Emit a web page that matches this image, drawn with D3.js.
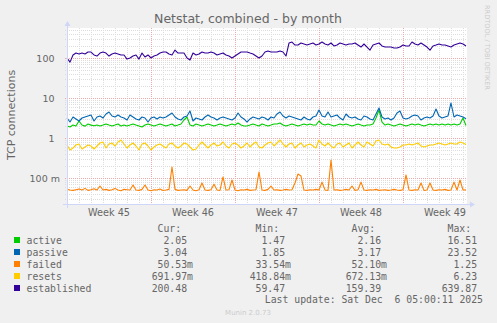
<!DOCTYPE html>
<html><head><meta charset="utf-8">
<script src="https://cdn.jsdelivr.net/npm/d3@7"></script>
<style>
html,body{margin:0;padding:0;background:#f0f0f0;}
svg{display:block;}
</style></head><body>
<svg id="chart" width="497" height="323"></svg>
<script>
// Netstat, combined - monthly view (6 hour samples)
const startTime = Date.UTC(2025, 10, 3, 0, 0, 0);
const endTime = Date.UTC(2025, 11, 6, 8, 0, 0);
const stepHours = 6;

const seriesNames = ["active", "passive", "failed", "resets", "established"];
const seriesColors = ["#00cc00", "#0066b3", "#ff8000", "#ffcc00", "#330099"];

const active = [
  2.00,1.88,2.11,2.00,2.66,2.11,1.98,2.24,2.10,2.02,
  2.11,2.00,2.11,2.24,2.11,2.00,2.11,2.24,2.00,2.11,
  2.00,2.11,2.24,2.11,2.00,1.88,2.11,2.24,2.11,2.00,
  2.11,2.24,2.11,2.00,2.11,2.24,2.00,2.11,2.24,2.82,
  3.35,2.11,2.00,2.24,2.11,2.00,2.11,2.24,2.11,2.00,
  2.11,2.24,2.11,2.00,2.11,2.24,2.11,2.37,2.11,2.00,
  2.00,2.11,2.24,2.11,2.00,2.24,2.11,2.00,2.11,2.24,
  2.24,2.37,2.11,2.00,2.11,2.24,2.11,2.00,2.11,2.24,
  2.11,2.24,2.11,2.11,2.66,2.24,2.11,2.24,2.11,2.00,
  2.11,2.24,2.11,2.24,2.11,2.00,2.11,2.24,2.11,2.00,
  2.11,2.11,2.24,3.16,5.01,2.51,2.11,2.24,2.11,2.00,
  2.11,2.24,2.11,2.00,2.11,2.24,2.11,2.24,2.11,2.00,
  2.11,2.24,2.11,2.24,2.11,2.24,2.11,2.24,2.11,2.24,
  2.11,2.24,3.16,2.05
];

const passive = [
  3.16,2.51,3.35,2.99,2.66,3.16,3.35,3.55,3.76,2.66,
  3.35,3.55,3.16,3.98,4.47,3.55,3.35,3.76,3.35,3.16,
  2.82,3.76,3.35,2.99,2.82,3.35,3.16,2.51,3.16,3.35,
  2.99,3.35,3.16,3.35,3.76,4.22,3.35,2.99,2.82,3.35,
  3.55,4.73,2.66,3.16,2.99,2.82,3.35,3.76,3.35,3.16,
  2.82,3.16,3.35,3.16,2.99,2.82,3.16,4.22,3.35,2.99,
  2.51,2.99,3.35,3.16,2.99,3.35,3.16,2.82,3.35,3.16,
  3.98,4.47,3.55,3.16,3.55,3.35,3.16,2.99,2.82,3.35,
  2.99,2.82,3.35,3.55,5.01,3.55,3.35,4.47,3.35,3.55,
  3.76,3.16,2.82,3.98,3.35,3.16,3.35,2.99,2.82,3.55,
  3.35,2.99,2.82,3.98,5.62,3.35,2.99,3.16,2.82,3.16,
  4.22,4.73,3.16,2.99,3.16,3.55,3.76,3.55,2.82,3.16,
  3.35,3.16,3.55,5.31,3.55,3.16,3.35,3.55,7.50,3.35,
  3.76,3.55,3.35,3.04
];

const failed = [
  0.052,0.050,0.049,0.051,0.053,0.050,0.055,0.049,0.051,0.054,
  0.050,0.063,0.050,0.052,0.049,0.051,0.055,0.050,0.048,0.052,
  0.051,0.050,0.067,0.050,0.049,0.052,0.067,0.050,0.048,0.051,
  0.050,0.053,0.049,0.050,0.052,0.188,0.052,0.049,0.050,0.051,
  0.049,0.063,0.050,0.048,0.051,0.075,0.050,0.049,0.051,0.070,
  0.050,0.049,0.106,0.050,0.051,0.089,0.050,0.048,0.051,0.050,
  0.052,0.049,0.050,0.051,0.141,0.050,0.049,0.052,0.063,0.050,
  0.051,0.049,0.050,0.052,0.050,0.051,0.075,0.126,0.112,0.050,
  0.049,0.051,0.050,0.052,0.050,0.079,0.050,0.049,0.280,0.050,
  0.051,0.049,0.050,0.052,0.050,0.063,0.049,0.051,0.079,0.050,
  0.049,0.051,0.050,0.052,0.049,0.050,0.051,0.049,0.050,0.052,
  0.050,0.049,0.051,0.119,0.050,0.049,0.051,0.050,0.075,0.049,
  0.050,0.075,0.050,0.049,0.051,0.050,0.052,0.049,0.050,0.079,
  0.050,0.089,0.050,0.0505
];

const resets = [
  0.668,0.501,0.562,0.668,0.708,0.531,0.596,0.668,0.631,0.531,
  0.631,0.750,0.794,0.562,0.708,0.750,0.631,0.794,0.891,0.708,
  0.562,0.668,0.750,0.631,0.501,0.708,0.750,0.631,0.501,0.596,
  0.668,0.708,0.631,0.562,0.708,0.750,0.631,0.562,0.631,0.750,
  0.708,0.596,0.501,0.531,0.668,0.794,0.668,0.562,0.668,0.750,
  0.631,0.668,0.794,0.631,0.562,0.708,0.750,0.668,0.562,0.631,
  0.750,0.596,0.708,0.794,0.596,0.562,0.668,0.750,0.794,0.631,
  0.750,0.891,0.708,0.596,0.708,0.750,0.562,0.668,0.750,0.596,
  0.668,0.708,0.631,0.562,0.891,0.708,0.631,0.750,0.631,0.562,
  0.708,0.750,0.596,0.668,0.750,0.562,0.668,0.794,0.668,0.596,
  0.794,0.708,0.631,0.841,0.891,0.708,0.668,0.708,0.596,0.562,
  0.562,0.596,0.668,0.668,0.708,0.668,0.708,0.750,0.631,0.596,
  0.631,0.668,0.668,0.708,0.750,0.708,0.668,0.708,0.750,0.708,
  0.708,0.794,0.750,0.692
];

const established = [
  100,79,119,133,126,133,126,141,141,119,
  112,133,141,133,112,126,133,126,119,119,
  94,100,112,119,94,133,106,119,100,112,
  119,133,141,141,126,119,158,133,133,133,
  100,89,133,119,126,141,133,133,141,133,
  119,126,133,119,112,100,112,126,141,141,
  141,133,126,112,100,112,141,150,141,141,
  141,150,141,112,237,251,211,211,237,224,
  211,224,237,211,224,251,224,211,237,200,
  211,237,224,211,224,224,237,211,188,224,
  188,158,211,224,237,200,188,188,188,178,
  178,188,211,200,200,251,224,211,237,211,
  188,158,200,211,224,211,211,200,188,211,
  224,237,224,200.48
];

// Legend statistics
const legendCur = ["2.05", "3.04", "50.53m", "691.97m", "200.48"];
const legendMin = ["1.47", "1.85", "33.54m", "418.84m", "59.47"];
const legendAvg = ["2.16", "3.17", "52.10m", "672.13m", "159.39"];
const legendMax = ["16.51", "23.52", "1.25", "6.23", "639.87"];
const legendHeaders = ["Cur:", "Min:", "Avg:", "Max:"];

const yTickValues = [0.1, 1, 10, 100];
const yTickLabels = ["100 m", "1", "10", "100"];

const titleText = "Netstat, combined - by month";
const yAxisTitle = "TCP connections";
const lastUpdate = "Last update: Sat Dec  6 05:00:11 2025";
const footerText = "Munin 2.0.73";
const sideText = "RRDTOOL / TOBI OETIKER";

// ---- layout ----
const plot = {left: 67, right: 467, top: 28, bottom: 204};
const fontColor = "#666666";
const axisColor = "#cfd6f8";
const minorGridColor = "#dddddd";
const majorGridColor = "#eeaaaa";
const sans = "'DejaVu Sans', sans-serif";
const mono = "'DejaVu Sans Mono', monospace";

const svg = d3.select("#chart");
svg.append("rect").attr("width", 497).attr("height", 323).attr("fill", "#f0f0f0");

const x = d3.scaleUtc().domain([startTime, endTime]).range([plot.left, plot.right]);
// 40 px per decade, 100 at y=58
const y = d3.scaleLog().domain([Math.pow(10, -1.65), Math.pow(10, 2.75)]).range([plot.bottom, plot.top]);

svg.append("rect")
  .attr("x", plot.left).attr("y", plot.top)
  .attr("width", plot.right - plot.left).attr("height", plot.bottom - plot.top)
  .attr("fill", "#ffffff");

const grid = svg.append("g").attr("shape-rendering", "crispEdges");
const snap = v => Math.round(v) + 0.5;

// horizontal minor grid (2..9 per decade)
const [yMin, yMax] = y.domain();
const minorY = [];
for (let e = -2; e <= 2; e++) {
  for (let m = 2; m <= 9; m++) {
    const v = m * Math.pow(10, e);
    if (v > yMin && v < yMax) minorY.push(v);
  }
}
grid.selectAll("line.hmin").data(minorY).join("line")
  .attr("x1", plot.left - 2).attr("x2", plot.right)
  .attr("y1", d => snap(y(d))).attr("y2", d => snap(y(d)))
  .attr("stroke", minorGridColor).attr("stroke-width", 1)
  .attr("stroke-dasharray", "1,1");

// vertical minor grid (days)
const days = d3.utcDay.range(new Date(startTime), new Date(endTime)).filter(d => d.getTime() > startTime);
grid.selectAll("line.vmin").data(days).join("line")
  .attr("x1", d => snap(x(d))).attr("x2", d => snap(x(d)))
  .attr("y1", plot.top).attr("y2", plot.bottom + 2)
  .attr("stroke", minorGridColor).attr("stroke-width", 1)
  .attr("stroke-dasharray", "1,1");

// major grid
grid.selectAll("line.hmaj").data(yTickValues).join("line")
  .attr("x1", plot.left - 2).attr("x2", plot.right)
  .attr("y1", d => snap(y(d))).attr("y2", d => snap(y(d)))
  .attr("stroke", majorGridColor).attr("stroke-width", 1)
  .attr("stroke-dasharray", "1,1");

const weeks = d3.utcMonday.range(new Date(startTime + 1), new Date(endTime));
grid.selectAll("line.vmaj").data(weeks).join("line")
  .attr("x1", d => snap(x(d))).attr("x2", d => snap(x(d)))
  .attr("y1", plot.top).attr("y2", plot.bottom + 2)
  .attr("stroke", majorGridColor).attr("stroke-width", 1)
  .attr("stroke-dasharray", "1,1");

// ---- series ----
const times = established.map((_, i) => startTime + i * stepHours * 3600e3);
const allSeries = [active, passive, failed, resets, established];
const line = d3.line().x((d, i) => x(times[i])).y(d => y(d));
svg.append("g").selectAll("path").data(allSeries).join("path")
  .attr("d", d => line(d))
  .attr("fill", "none")
  .attr("stroke", (d, i) => seriesColors[i])
  .attr("stroke-width", 1.1)
  .attr("stroke-linejoin", "round");

// ---- axes ----
const ax = svg.append("g");
ax.append("line").attr("x1", plot.left - 4).attr("x2", plot.right + 4)
  .attr("y1", plot.bottom + 0.5).attr("y2", plot.bottom + 0.5).attr("stroke", axisColor);
ax.append("line").attr("x1", plot.left + 0.5).attr("x2", plot.left + 0.5)
  .attr("y1", plot.bottom + 4).attr("y2", plot.top - 4).attr("stroke", axisColor);
ax.append("path")
  .attr("d", `M${plot.right + 3},${plot.bottom - 2.5}L${plot.right + 8},${plot.bottom + 0.5}L${plot.right + 3},${plot.bottom + 3.5}Z`)
  .attr("fill", axisColor);
ax.append("path")
  .attr("d", `M${plot.left - 2.5},${plot.top - 2}L${plot.left + 0.5},${plot.top - 7}L${plot.left + 3.5},${plot.top - 2}Z`)
  .attr("fill", axisColor);

// y tick labels (suffix-less labels keep a trailing blank, as in the number format)
svg.append("g").selectAll("text").data(yTickValues).join("text")
  .attr("x", (d, i) => yTickLabels[i].endsWith("m") ? 60 : 54.5)
  .attr("y", d => y(d) + 3.5)
  .attr("text-anchor", "end")
  .attr("font-family", sans).attr("font-size", "9.5px").attr("fill", fontColor)
  .text((d, i) => yTickLabels[i]);

// x labels: ISO week centred in each week
const weekStarts = d3.utcMonday.range(new Date(startTime), new Date(endTime));
svg.append("g").selectAll("text").data(weekStarts).join("text")
  .attr("x", d => x(d3.utcHour.offset(d, 84)))
  .attr("y", 216)
  .attr("text-anchor", "middle")
  .attr("font-family", sans).attr("font-size", "9.7px").attr("fill", fontColor)
  .text(d => "Week " + d3.utcFormat("%V")(d));

// titles
svg.append("text").attr("x", 248).attr("y", 23).attr("text-anchor", "middle")
  .attr("font-family", sans).attr("font-size", "12.5px").attr("fill", fontColor)
  .text(titleText);
svg.append("text").attr("transform", "translate(15,115) rotate(-90)")
  .attr("text-anchor", "middle")
  .attr("font-family", sans).attr("font-size", "11px").attr("fill", fontColor)
  .text(yAxisTitle);
svg.append("text").attr("transform", "translate(485,5) rotate(90)")
  .attr("font-family", sans).attr("font-size", "6.6px").attr("fill", "#cccccc")
  .text(sideText);

// ---- legend ----
const lg = svg.append("g").attr("font-family", mono).attr("font-size", "9.8px").attr("fill", fontColor);
const charW = 5.95;
const colEnds = [193, 291, 387, 483];
const rowY0 = 243.5, rowStep = 12;
lg.selectAll("text.hdr").data(legendHeaders).join("text")
  .attr("x", (d, i) => colEnds[i] - 2 * charW).attr("y", rowY0 - rowStep)
  .attr("text-anchor", "end").text(d => d);
seriesNames.forEach((name, r) => {
  const yy = rowY0 + r * rowStep;
  lg.append("rect").attr("x", 14).attr("y", yy - 6.5).attr("width", 6).attr("height", 6)
    .attr("fill", seriesColors[r]);
  lg.append("text").attr("x", 26.5).attr("y", yy).text(name);
  [legendCur, legendMin, legendAvg, legendMax].forEach((col, c) => {
    const s = col[r];
    lg.append("text")
      .attr("x", s.endsWith("m") ? colEnds[c] : colEnds[c] - charW)
      .attr("y", yy).attr("text-anchor", "end").text(s);
  });
});
lg.append("text").attr("x", 483).attr("y", rowY0 + 5 * rowStep - 1)
  .attr("text-anchor", "end").style("white-space", "pre").text(lastUpdate);

svg.append("text").attr("x", 248).attr("y", 314.5).attr("text-anchor", "middle")
  .attr("font-family", sans).attr("font-size", "7px").attr("fill", "#cccccc")
  .text(footerText);
</script>
</body></html>
